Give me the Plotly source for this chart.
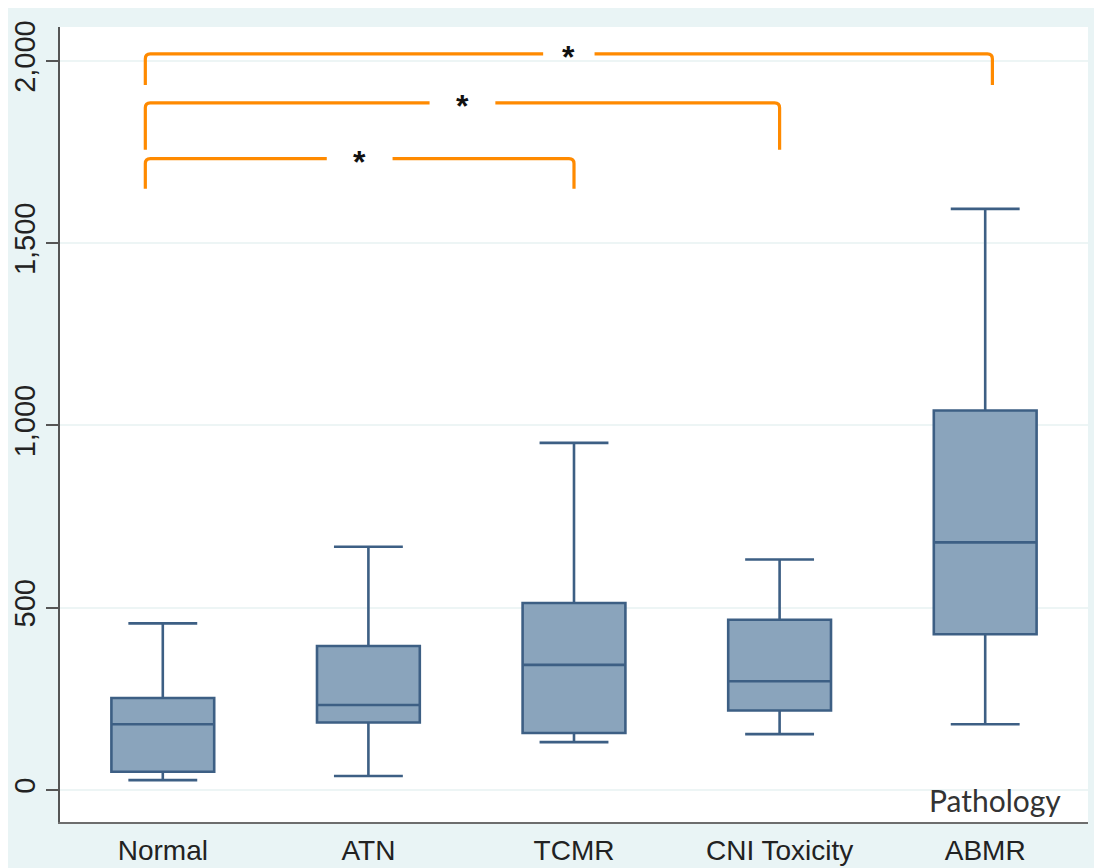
import plotly.graph_objects as go

# ---- data ----
categories = ["Normal", "ATN", "TCMR", "CNI Toxicity", "ABMR"]
lower_whisker = [27, 38, 131, 153, 180]
q1_values = [50, 185, 156, 218, 427]
median_values = [180, 233, 343, 298, 679]
q3_values = [252, 395, 513, 467, 1041]
upper_whisker = [457, 667, 952, 632, 1594]

y_tick_values = [0, 500, 1000, 1500, 2000]
y_tick_labels = ["0", "500", "1,000", "1,500", "2,000"]

# significance comparisons: (group a, group b)
comparisons = [("Normal", "TCMR"), ("Normal", "CNI Toxicity"), ("Normal", "ABMR")]
comparison_labels = ["*", "*", "*"]
bracket_top = [1732, 1885, 2019]
bracket_bottom = [1649, 1756, 1934]

# ---- styling ----
BOX_FILL = "#8aa4bc"
BOX_LINE = "#3d5f84"
ORANGE = "#ff8a00"
OUTER_BG = "#e9f4f5"
GRID = "#edf5f5"

W, H = 1094, 860
ML, MR, MT, MB = 52, 14, 19, 46
Y_RANGE = [-88, 2093]

fig = go.Figure()
fig.add_trace(go.Box(
    x=categories,
    q1=q1_values, median=median_values, q3=q3_values,
    lowerfence=lower_whisker, upperfence=upper_whisker,
    boxpoints=False,
    width=0.5, whiskerwidth=0.67,
    fillcolor=BOX_FILL,
    line=dict(color=BOX_LINE, width=2.6),
    hoverinfo="skip",
    showlegend=False,
))

# brackets
plot_w = W - ML - MR
ph = H - MT - MB
px_x = 5 / (plot_w / 5)                                   # corner radius in category units
px_y = 5 / (ph / (Y_RANGE[1] - Y_RANGE[0]))               # corner radius in data units
left_adj = -0.085
right_adj = [0.0, 0.0, 0.035]
gap_half = [0.16, 0.16, 0.125]
shapes = []
annotations = []
for i, (a, b) in enumerate(comparisons):
    x0 = categories.index(a) + left_adj
    x1 = categories.index(b) + right_adj[i]
    yh, yb = bracket_top[i], bracket_bottom[i]
    xm = (x0 + x1) / 2
    g = gap_half[i]
    path = (f"M {x0},{yb} L {x0},{yh - px_y} Q {x0},{yh} {x0 + px_x},{yh} L {xm - g},{yh} "
            f"M {xm + g},{yh} L {x1 - px_x},{yh} Q {x1},{yh} {x1},{yh - px_y} L {x1},{yb}")
    shapes.append(dict(type="path", path=path, xref="x", yref="y",
                       line=dict(color=ORANGE, width=3.2), layer="above"))
    annotations.append(dict(x=xm, y=yh, xref="x", yref="y", text=f"<b>{comparison_labels[i]}</b>",
                            showarrow=False, yanchor="middle", yshift=-3,
                            font=dict(family="Liberation Sans", size=32, color="#111")))

annotations.append(dict(x=(1055 - ML) / plot_w, y=0.003, xref="paper", yref="paper", text="Pathology",
                        showarrow=False, xanchor="right", yanchor="bottom",
                        font=dict(family="Lato", size=30, color="#333")))

fig.update_layout(
    width=W, height=H,
    margin=dict(l=ML, r=MR, t=MT, b=MB, autoexpand=False),
    paper_bgcolor=OUTER_BG,
    plot_bgcolor="white",
    shapes=shapes,
    annotations=annotations,
    font=dict(family="Liberation Sans", color="#222"),
)
fig.update_xaxes(
    type="category", range=[-0.5, 4.5],
    showline=True, linecolor="#6d6d6d", linewidth=2,
    ticks="", showgrid=False, zeroline=False,
    tickfont=dict(family="Liberation Sans", size=28, color="#222"),
    ticklabelstandoff=2, automargin=False,
)
fig.update_yaxes(
    range=Y_RANGE,
    tickvals=y_tick_values, ticktext=y_tick_labels,
    tickangle=-90,
    showline=True, linecolor="#555", linewidth=1.5,
    ticks="outside", ticklen=12, tickwidth=1.5, tickcolor="#555",
    showgrid=True, gridcolor=GRID, gridwidth=1.5,
    zeroline=False,
    tickfont=dict(family="Liberation Sans", size=29, color="#222"),
    automargin=False,
)

fig.write_html("out.html")
